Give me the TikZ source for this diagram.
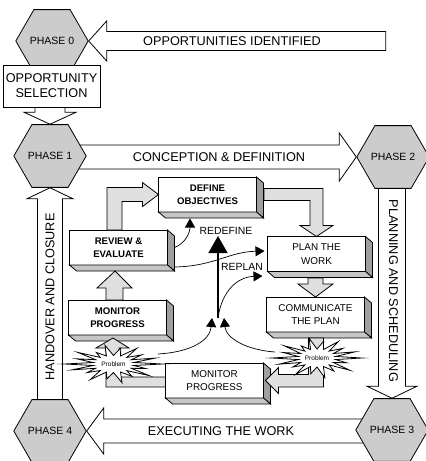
\documentclass[tikz,border=0pt]{standalone}
\usepackage{fontspec}
\setmainfont{Liberation Sans}
\usetikzlibrary{shapes.geometric,arrows.meta,backgrounds}

\tikzset{
  phase/.style={regular polygon, regular polygon sides=6, minimum size=60pt, inner sep=0pt,
    draw, line width=0.8pt, fill=gray!40, font=\fontsize{10.5}{12}\selectfont},
  stage/.style={draw, line width=0.8pt, fill=white, minimum width=98pt, minimum height=35pt,
    inner sep=0pt, outer sep=0pt, align=center, font=\fontsize{9.9}{13.5}\selectfont},
  keystage/.style={stage, font=\fontsize{9.6}{13.5}\selectfont\bfseries},
  bigarrow/.style={draw, line width=0.8pt, fill=white, line join=miter},
  flowarrow/.style={draw, line width=0.8pt, fill=gray!25, line join=miter},
  face/.style={draw, line width=0.8pt, line join=miter},
  burst/.style={draw, line width=0.8pt, fill=white, line join=miter, miter limit=20},
  link/.style={line width=0.7pt, -{Triangle[length=9pt,width=10pt]}},
  biglabel/.style={font=\fontsize{12.7}{15}\selectfont},
  smalllabel/.style={font=\fontsize{10.4}{12}\selectfont}
}

\begin{document}
\begin{tikzpicture}[x=1pt,y=-1pt]
\useasboundingbox (0,0) rectangle (426,461);

% Phases
\node[phase] (ph0) at (52,41) {PHASE 0};
\node[phase] (ph1) at (50,156) {PHASE 1};
\node[phase] (ph2) at (393,157) {PHASE 2};
\node[phase] (ph3) at (392,430) {PHASE 3};
\node[phase] (ph4) at (50,431) {PHASE 4};

% Opportunity selection
\node[draw, line width=0.8pt, fill=white, minimum width=97pt, minimum height=42pt,
  inner sep=0pt, align=center, biglabel] (sel) at (51.5,86) {OPPORTUNITY\\SELECTION};

% Outer arrows between the phases
\begin{scope}[on background layer]
  \draw[bigarrow] (ph0.east) -- ++(18,-20) -- ++(0,10.5) -- ++(279,0) -- ++(0,19)
    -- ++(-279,0) -- ++(0,10.5) -- cycle;
  \draw[bigarrow] (ph1.north) -- ++(-26,-12) -- ++(11,0) -- ++(0,-14) -- ++(30,0)
    -- ++(0,14) -- ++(11,0) -- cycle;
  \draw[bigarrow] (ph2.west) -- ++(-17,-24) -- ++(0,12) -- ++(-295,0) -- ++(0,24)
    -- ++(295,0) -- ++(0,12) -- cycle;
  \draw[bigarrow] (ph3.north) -- ++(-25,-12) -- ++(11.5,0) -- ++(0,-215) -- ++(27,0)
    -- ++(0,215) -- ++(11.5,0) -- cycle;
  \draw[bigarrow] (ph4.east) -- ++(17,-23) -- ++(0,11) -- ++(290,0) -- ++(0,24)
    -- ++(-290,0) -- ++(0,11) -- cycle;
  \draw[bigarrow] (ph1.south) -- ++(-23,11) -- ++(10.5,0) -- ++(0,215) -- ++(25,0)
    -- ++(0,-215) -- ++(10.5,0) -- cycle;
\end{scope}

% Arrow texts
\node[biglabel] (lblopp) at (232,41) {OPPORTUNITIES IDENTIFIED};
\node[biglabel] (lblconc) at (219,157) {CONCEPTION \& DEFINITION};
\node[biglabel, rotate=-90] (lblplan) at (393.5,291) {PLANNING AND SCHEDULING};
\node[biglabel] (lblexec) at (221,431) {EXECUTING THE WORK};
\node[biglabel, rotate=90] (lblhand) at (50,297) {HANDOVER AND CLOSURE};

% Inner cycle boxes
\node[keystage] (def) at (207.5,194.5) {DEFINE\\OBJECTIVES};
\node[stage] (plan) at (316.5,254) {PLAN THE\\WORK};
\node[stage] (comm) at (315.5,314.5) {COMMUNICATE\\THE PLAN};
\node[keystage] (rev) at (118.5,247.5) {REVIEW \&\\EVALUATE};
\node[keystage] (monl) at (117.5,317.5) {MONITOR\\PROGRESS};
\node[stage] (monb) at (214.5,380.5) {MONITOR\\PROGRESS};

% Box sides
\foreach \b in {def,plan,comm,rev,monl,monb}{
  \filldraw[face, fill=gray!75] (\b.north east) -- ++(7,6) -- ([shift={(7,6)}]\b.south east)
    -- (\b.south east) -- cycle;
  \filldraw[face, fill=gray!45] (\b.south west) -- ++(7,6) -- ([shift={(7,6)}]\b.south east)
    -- (\b.south east) -- cycle;
}

% Grey flow arrows
\draw[flowarrow] (def.west) -- ++(-16,-12) -- ++(0,5) -- ++(-35.5,0) -- ++(0,42.5)
  -- ++(15,0) -- ++(0,-28.5) -- ++(20.5,0) -- ++(0,5) -- cycle;
\draw[flowarrow] (plan.north) -- ++(-16.5,-11) -- ++(10,0) -- ++(0,-25) -- ++(-46,0)
  -- ++(0,-12) -- ++(59,0) -- ++(0,37) -- ++(10,0) -- cycle;
\draw[flowarrow] (comm.north) -- ++(-17.5,-13) -- ++(10,0) -- ++(0,-6) -- ++(15,0)
  -- ++(0,6) -- ++(10,0) -- cycle;
\draw[flowarrow] ([shift={(-3.5,6)}]rev.south) -- ++(-18,17) -- ++(9,0) -- ++(0,12)
  -- ++(17,0) -- ++(0,-12) -- ++(9,0) -- cycle;
\draw[flowarrow] ([xshift=2]monb.east) -- ++(13,-13) -- ++(0,7) -- ++(30,0) -- ++(0,-36.5)
  -- ++(15,0) -- ++(0,49) -- ++(-45,0) -- ++(0,6.5) -- cycle;
\draw[flowarrow] ([shift={(-4.5,3)}]monl.south) -- ++(-17,10) -- ++(10,0) -- ++(0,39)
  -- ++(59.5,0) -- ++(0,-10) -- ++(-46.5,0) -- ++(0,-29) -- ++(10,0) -- cycle;

% Problem bursts
\foreach \cx/\cy/\rx/\ry/\nm in {113.5/364/49/19/prob1, 317/358/45/20/prob2}{
  \draw[burst] ({\cx+\rx},\cy)
    \foreach \a/\f in {0/1,20/0.7,40/0.95,60/0.75,80/1,100/0.8,120/0.95,140/0.7,160/0.9,
      180/1,200/0.8,220/0.95,240/0.7,260/1,280/0.85,300/0.95,320/0.75,340/0.9}
      { -- ({\cx+\f*\rx*cos(\a)},{\cy+\f*\ry*sin(\a)})
        -- ({\cx+0.42*\rx*cos(\a+10)},{\cy+0.45*\ry*sin(\a+10)}) }
    -- cycle;
  \node[font=\fontsize{6.5}{7}\selectfont] (\nm) at (\cx,\cy) {Problem};
}

% Redefine / replan links
\coordinate (hub) at (218,318);
\coordinate (redef) at (218,236);
\coordinate (p1out) at (158,354);
\coordinate (p2out) at (275,352);
\draw[line width=1.6pt, -{Triangle[length=17pt,width=19pt]}] (hub) -- (redef);
\draw[link] (p1out) .. controls (192,352) and (210,340) .. ([xshift=-6]hub);
\draw[link] (p2out) .. controls (246,350) and (226,338) .. ([xshift=6]hub);
\draw[link] (hub) .. controls (222,290) and (238,277) .. ([shift={(-5,22)}]plan.west);
\draw[link] ([shift={(7.5,2)}]rev.south east) .. controls (215,266) and (228,252)
  .. ([shift={(-3,-3)}]plan.west);
\draw[link] ([xshift=7]rev.east) .. controls (186,243) and (190,232)
  .. ([shift={(31.5,6.5)}]def.south west);
\node[smalllabel] (lblredef) at (226,231) {REDEFINE};
\node[smalllabel] (lblreplan) at (242,267) {REPLAN};
\end{tikzpicture}
\end{document}
